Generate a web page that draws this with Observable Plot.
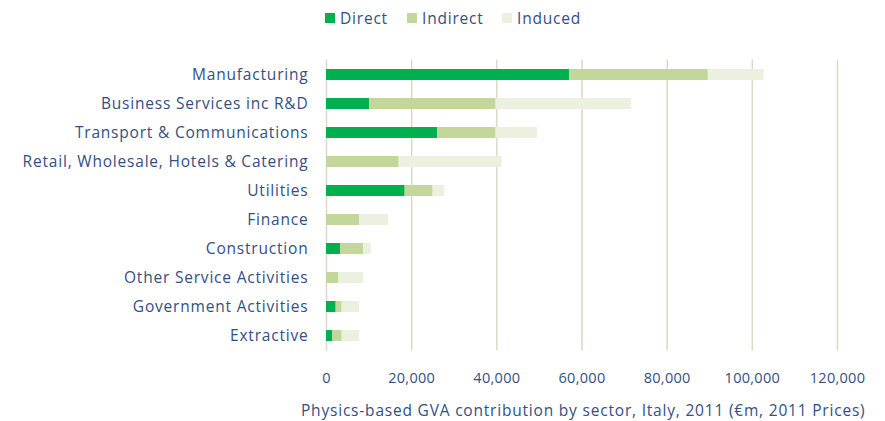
<!DOCTYPE html>
<html><head><meta charset="utf-8">
<script src="https://cdn.jsdelivr.net/npm/d3@7"></script>
<script src="https://cdn.jsdelivr.net/npm/@observablehq/plot@0.6"></script>
<style>
body{margin:0;background:#fff;font-family:"Open Sans",sans-serif;color:#344f82;}
#wrap{position:relative;width:885px;height:421px;}
#legend{position:absolute;top:0;left:0;width:885px;height:40px;}
.li{position:absolute;top:9px;font-size:15.5px;line-height:18px;letter-spacing:0.8px;color:#344f82;}
.sw{position:absolute;top:13px;width:10px;height:10px;}
#chart{position:absolute;top:40px;left:0;}
#caption{position:absolute;top:400px;left:301px;font-size:15.5px;line-height:20px;letter-spacing:0.8px;white-space:nowrap;}
g[aria-label="y-axis tick label"] text{font-size:15.5px;letter-spacing:0.8px;}
g[aria-label="x-axis tick label"] text{font-size:14.5px;letter-spacing:0.3px;}
</style></head>
<body><div id="wrap">
<div id="legend"></div>
<div id="chart"></div>
<div id="caption">Physics-based GVA contribution by sector, Italy, 2011 (€m, 2011 Prices)</div>
</div>
<script>
const sectors = ["Manufacturing","Business Services inc R&D","Transport & Communications","Retail, Wholesale, Hotels & Catering","Utilities","Finance","Construction","Other Service Activities","Government Activities","Extractive"];
const seriesNames = ["Direct","Indirect","Induced"];
const direct   = [57100, 10170, 26060,     0, 18470,    0, 3290,    0, 2270, 1490];
const indirect = [32570, 29660, 13770, 17060,  6570, 7820, 5470, 2900, 1410, 2190];
const induced  = [13130, 31770,  9700, 24180,  2730, 6810, 1730, 5860, 4070, 4070];
const xTicks = [0, 20000, 40000, 60000, 80000, 100000, 120000];
const colors = ["#00b050", "#c4d79b", "#ebf1de"];

const seriesValues = [direct, indirect, induced];
const data = [];
seriesNames.forEach((s, j) => sectors.forEach((c, i) => data.push({sector: c, series: s, value: seriesValues[j][i]})));

const chart = Plot.plot({
  width: 885, height: 355,
  marginLeft: 326, marginRight: 48, marginTop: 19.5, marginBottom: 44.5,
  style: {fontFamily: "Open Sans, sans-serif", fontSize: "14px", color: "#344f82", background: "#fff"},
  x: {domain: [0, 120000], ticks: xTicks, tickFormat: d3.format(","), tickSize: 0, tickPadding: 22, label: null},
  y: {domain: sectors, paddingInner: 0.61, paddingOuter: 0.305, tickSize: 0, tickPadding: 18, label: null},
  color: {domain: seriesNames, range: colors},
  marks: [
    Plot.gridX(xTicks, {stroke: "#dcd9c6", strokeOpacity: 1, strokeWidth: 1.5}),
    Plot.barX(data, {x: "value", y: "sector", fill: "series", order: seriesNames}),
  ]
});
document.getElementById("chart").appendChild(chart);

const legend = document.getElementById("legend");
const pos = [325, 407, 502];
seriesNames.forEach((s, i) => {
  const sw = document.createElement("div");
  sw.className = "sw"; sw.style.left = pos[i] + "px"; sw.style.background = colors[i];
  legend.appendChild(sw);
  const t = document.createElement("div");
  t.className = "li"; t.style.left = (pos[i] + 15) + "px"; t.textContent = s;
  legend.appendChild(t);
});
</script>
</body></html>
